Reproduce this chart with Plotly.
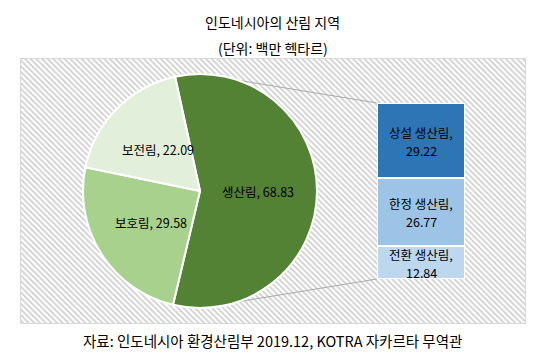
import math
import plotly.graph_objects as go

# ---- data ----
pie_labels = ["생산림", "보호림", "보전림"]
pie_values = [68.83, 29.58, 22.09]
pie_colors = ["#548235", "#A9D18E", "#E2EFDA"]

bar_labels = ["전환 생산림", "한정 생산림", "상설 생산림"]   # bottom -> top
bar_values = [12.84, 26.77, 29.22]
bar_colors = ["#BDD7EE", "#9DC3E6", "#2E75B6"]

title_line1 = "인도네시아의 산림 지역"
title_line2 = "(단위: 백만 헥타르)"
source_text = "자료: 인도네시아 환경산림부 2019.12, KOTRA 자카르타 무역관"

# ---- layout geometry (pixels) ----
W, H = 539, 359
FONT = "Noto Sans CJK KR"
box = dict(x0=21, y0=59, x1=526, y1=324)
pie_c = (200, 191)
pie_r = 117
pie_rotation = -12.3
bar_px = dict(x0=377, x1=465, y0=103, y1=279)


def px_x(v):
    return v / W


def px_y(v):
    return 1 - v / H


fig = go.Figure()

# hatched plot-area background (pixel-coordinate helper subplot)
fig.add_trace(go.Bar(
    x=[(box["x0"] + box["x1"]) / 2], y=[box["y1"] - box["y0"]], base=[box["y0"]],
    width=[box["x1"] - box["x0"]],
    marker=dict(color="white",
                pattern=dict(shape="\\", fgcolor="#CFCFCF", bgcolor="white",
                             size=4, solidity=0.45, fillmode="replace"),
                line=dict(color="#D9D9D9", width=1)),
    hoverinfo="skip", showlegend=False, xaxis="x", yaxis="y"))

# connector lines from pie top/bottom to bar corners
fig.add_trace(go.Scatter(
    x=[pie_c[0], bar_px["x0"], None, pie_c[0], bar_px["x0"]],
    y=[pie_c[1] - pie_r, bar_px["y0"], None, pie_c[1] + pie_r, bar_px["y1"]],
    mode="lines", line=dict(color="#ABABAB", width=1),
    hoverinfo="skip", showlegend=False, xaxis="x", yaxis="y"))

annotations = []

# stacked bar
cum = 0.0
for lab, val, col in zip(bar_labels, bar_values, bar_colors):
    fig.add_trace(go.Bar(
        x=[0], y=[val], name=lab, width=1,
        marker=dict(color=col, line=dict(color="white", width=2)),
        showlegend=False, hoverinfo="name+y", xaxis="x2", yaxis="y2"))
    mid = cum + val / 2
    cum += val
    for txt, shift in ((f"{lab},", 8), (f"{val:.2f}", -10)):
        annotations.append(dict(
            text=txt, x=0, y=mid, xref="x2", yref="y2", yshift=shift,
            showarrow=False, font=dict(size=12.5, family=FONT, color="black"),
            xanchor="center", yanchor="middle"))

# pie
fig.add_trace(go.Pie(
    labels=pie_labels, values=pie_values, sort=False,
    direction="clockwise", rotation=pie_rotation,
    marker=dict(colors=pie_colors, line=dict(color="white", width=2)),
    textinfo="none",
    showlegend=False, hoverinfo="label+value",
    domain=dict(x=[px_x(pie_c[0] - pie_r), px_x(pie_c[0] + pie_r)],
                y=[px_y(pie_c[1] + pie_r), px_y(pie_c[1] - pie_r)])))

# pie labels placed at mid-angle of each slice, half radius
total = sum(pie_values)
ang = pie_rotation
for lab, val in zip(pie_labels, pie_values):
    span = 360 * val / total
    mid = math.radians(ang + span / 2)
    ang += span
    cx = pie_c[0] + 0.5 * pie_r * math.sin(mid)
    cy = pie_c[1] - 0.5 * pie_r * math.cos(mid)
    annotations.append(dict(
        text=f"{lab}, {val:.2f}", x=px_x(cx), y=px_y(cy), xref="paper", yref="paper",
        showarrow=False, font=dict(size=12.5, family=FONT, color="black"),
        xanchor="center", yanchor="middle"))

annotations += [
    dict(text=title_line1, x=273 / W, y=px_y(22), xref="paper", yref="paper",
         showarrow=False, font=dict(size=14, family=FONT, color="black"),
         xanchor="center", yanchor="middle"),
    dict(text=title_line2, x=273 / W, y=px_y(48), xref="paper", yref="paper",
         showarrow=False, font=dict(size=14, family=FONT, color="black"),
         xanchor="center", yanchor="middle"),
    dict(text=source_text, x=273 / W, y=px_y(340), xref="paper", yref="paper",
         showarrow=False, font=dict(size=14.5, family=FONT, color="black"),
         xanchor="center", yanchor="middle"),
]

fig.update_layout(
    width=W, height=H, autosize=False,
    margin=dict(l=0, r=0, t=0, b=0),
    paper_bgcolor="white", plot_bgcolor="rgba(0,0,0,0)",
    barmode="stack", bargap=0,
    font=dict(family=FONT, color="black"),
    xaxis=dict(domain=[0, 1], range=[0, W], visible=False, fixedrange=True),
    yaxis=dict(domain=[0, 1], range=[H, 0], visible=False, fixedrange=True),
    xaxis2=dict(domain=[px_x(bar_px["x0"]), px_x(bar_px["x1"])], range=[-0.5, 0.5],
                visible=False, anchor="y2", fixedrange=True),
    yaxis2=dict(domain=[px_y(bar_px["y1"]), px_y(bar_px["y0"])],
                range=[0, sum(bar_values)], visible=False, anchor="x2", fixedrange=True),
    annotations=annotations,
)

fig.write_html("out.html", config={"displayModeBar": False},
               post_script="document.body.style.margin='0';")
